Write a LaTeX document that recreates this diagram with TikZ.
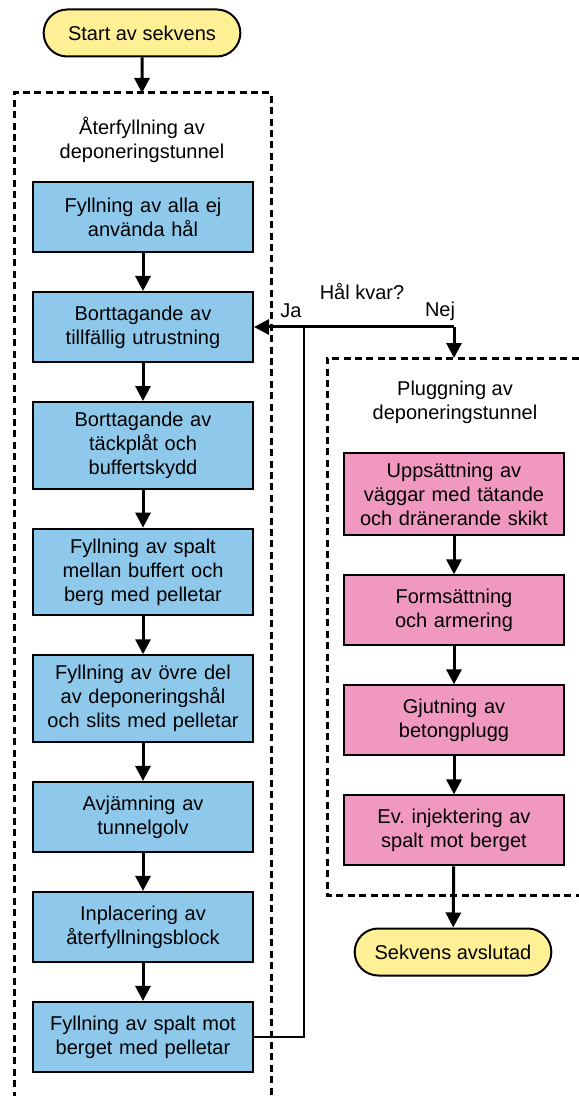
\documentclass[tikz,border=0pt]{standalone}
\usepackage{fontspec}
\setmainfont{Liberation Sans}
\usepackage{tikz}
\usetikzlibrary{positioning, arrows.meta, shapes.misc}

\definecolor{fyllblue}{RGB}{142,201,236}
\definecolor{pluggpink}{RGB}{240,152,192}
\definecolor{termyellow}{RGB}{255,240,150}

\tikzset{
	process/.style={rectangle, draw=black, line width=1pt, minimum width=107pt,
		minimum height=35pt, inner sep=5pt, align=center, text width=100pt,
		font=\fontsize{10}{12}\selectfont},
	blue/.style={process, fill=fyllblue},
	pink/.style={process, fill=pluggpink},
	term/.style={rounded rectangle, draw=black, line width=1pt, fill=termyellow,
		minimum width=105pt, minimum height=23.5pt, font=\fontsize{10}{12}\selectfont},
	rubrik/.style={align=center, font=\fontsize{10}{12}\selectfont},
	flow/.style={line width=1.5pt, -{Triangle[width=7.5pt,length=7.5pt]}},
	ram/.style={line width=1.5pt, dash pattern=on 3.5pt off 2.2pt},
	tunn/.style={line width=0.6pt}
}

\begin{document}
\begin{tikzpicture}[x=0.5pt, y=-0.5pt, node distance=19pt]
		\useasboundingbox (0,0) rectangle (578,1096);
		
		\node[term] (start) at (142,33) {Start av sekvens};
		
		% aterfyllning
		\node[rubrik] (t1) at (142,140) {Återfyllning av\\deponeringstunnel};
		\node[blue] (b1) at (143,217) {Fyllning av alla ej\\använda hål};
		\node[blue, below = of b1] (b2) {Borttagande av\\tillfällig utrustning};
		\node[blue, below = of b2] (b3) {Borttagande av\\täckplåt och\\buffertskydd};
		\node[blue, below = of b3] (b4) {Fyllning av spalt\\mellan buffert och\\berg med pelletar};
		\node[blue, below = of b4] (b5) {Fyllning av övre del\\av deponeringshål\\och slits med pelletar};
		\node[blue, below = of b5] (b6) {Avjämning av\\tunnelgolv};
		\node[blue, below = of b6] (b7) {Inplacering av\\återfyllningsblock};
		\node[blue, below = of b7] (b8) {Fyllning av spalt mot\\berget med pelletar};
		
		% pluggning
		\node[rubrik] (t2) at (455,402) {Pluggning av\\deponeringstunnel};
		\node[pink] (p1) at (454,494) {Uppsättning av\\väggar med tätande\\och dränerande skikt};
		\node[pink, below = of p1] (p2) {Formsättning\\och armering};
		\node[pink, below = of p2] (p3) {Gjutning av\\betongplugg};
		\node[pink, below = of p3] (p4) {Ev.\ injektering av\\spalt mot berget};
		
		\node[term] (slut) at (453,952) {Sekvens avslutad};
		
		% ramar
		\draw[ram] (14,1110) -- (14,93) -- (271,93) -- (271,1110);
		\draw[ram] (590,358) -- (327,358) -- (327,895) -- (590,895);
		\coordinate (r1top) at (142,93);
		\coordinate (r2top) at (p1.north |- 0,358);
		
		\draw[flow] (start) -- (r1top);
		\foreach \a/\b in {b1/b2, b2/b3, b3/b4, b4/b5, b5/b6, b6/b7, b7/b8, p1/p2, p2/p3, p3/p4}
			\draw[flow] (\a) -- (\b);
		\draw[flow] (p4) -- (slut);
		
		% hal kvar?
		\path (b2.east) -- ++(50,0) coordinate (jt);
		\coordinate (nj) at (jt -| r2top);
		\draw[tunn] (b8.east) -| (jt);
		\draw[flow] (nj) -- (b2.east);
		\draw[flow] (nj) -- (r2top);
		\node[rubrik] (hk) at (362,292) {Hål kvar?};
		\node[rubrik] (ja) at (291,311) {Ja};
		\node[rubrik] (nej) at (440,311) {Nej};
		
		\end{tikzpicture}
\end{document}
